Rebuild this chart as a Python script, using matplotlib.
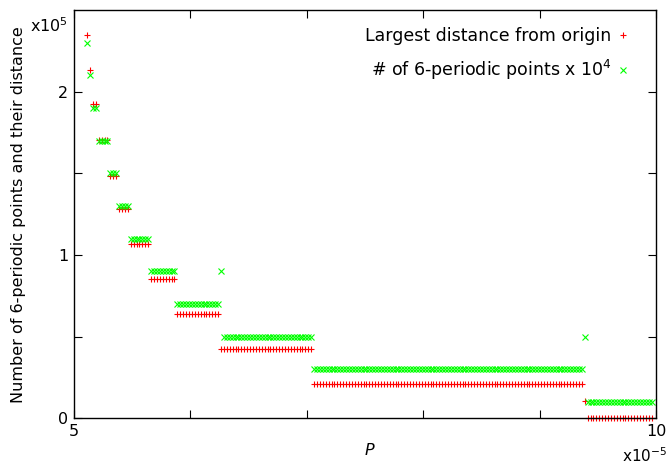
import numpy as np
import matplotlib
matplotlib.use("Agg")
from matplotlib import pyplot as plt

# P grid spacing (units of 1e-5) and the step segments
p_step = 0.025
seg_start = [5.1125, 5.1375, 5.1625, 5.2125, 5.3125, 5.3875, 5.4875, 5.6625,
             5.8875, 6.2625, 6.2875, 7.0625, 9.3875, 9.4125]
seg_count = [1, 1, 2, 4, 3, 4, 7, 9, 15, 1, 31, 93, 1, 23]
# largest distance from origin (units of 1e5)
seg_dist = [2.35, 2.135, 1.925, 1.705, 1.485, 1.28, 1.065, 0.853, 0.64,
            0.425, 0.425, 0.213, 0.107, 0.0]
# number of 6-periodic points (units of 1e4)
seg_npts = [23, 21, 19, 17, 15, 13, 11, 9, 7, 9, 5, 3, 5, 1]

P, dist, npts = [], [], []
for s, n, d, c in zip(seg_start, seg_count, seg_dist, seg_npts):
    for k in range(n):
        P.append(s + k*p_step)
        dist.append(d)
        npts.append(c)
P = np.array(P)
dist = np.array(dist)
npts = np.array(npts) / 10.0   # x10^4 -> axis units of 1e5

plt.rcParams['font.family'] = 'DejaVu Sans'
fs = 11.5

fig = plt.figure(figsize=(6.68, 4.66), dpi=100)
ax = fig.add_axes([0.1108, 0.1024, 0.8713, 0.876])

ax.plot(P, dist, linestyle='none', marker='+', color='#ff0000', ms=5,
        mew=0.8, clip_on=False, label='Largest distance from origin')
ax.plot(P, npts, linestyle='none', marker='x', color='#00ff00', ms=4,
        mew=0.8, clip_on=False, label='# of 6-periodic points x 10$^{4}$')

ax.set_xlim(5, 10)
ax.set_ylim(0, 2.5)
ax.set_xticks([5, 6, 7, 8, 9, 10])
ax.set_xticklabels(['5', '', '', '', '', '10'])
ax.set_yticks([0, 0.5, 1, 1.5, 2])
ax.set_yticklabels(['0', '', '1', '', '2'])
ax.tick_params(direction='in', length=6, width=0.8, top=True, right=True,
               labelsize=fs, pad=4)
for sp in ax.spines.values():
    sp.set_linewidth(1.0)

ax.set_xlabel('P', fontsize=fs, style='italic')
ax.xaxis.set_label_coords(0.507, -0.06)
ax.set_ylabel('Number of 6-periodic points and their distance', fontsize=fs)
ax.yaxis.set_label_coords(-0.0825, 0.5)

fig.text(0.102, 0.946, 'x10$^{5}$', fontsize=fs, ha='right', va='center')
fig.text(0.999, 0.022, 'x10$^{-5}$', fontsize=11, ha='right', va='center')

ax.legend(loc='upper right', bbox_to_anchor=(0.973, 0.988), frameon=False,
          markerfirst=False, fontsize=12.5, handlelength=0.6,
          handletextpad=0.35, labelspacing=0.73, borderaxespad=0.3)

plt.savefig('out.png', dpi=100)
